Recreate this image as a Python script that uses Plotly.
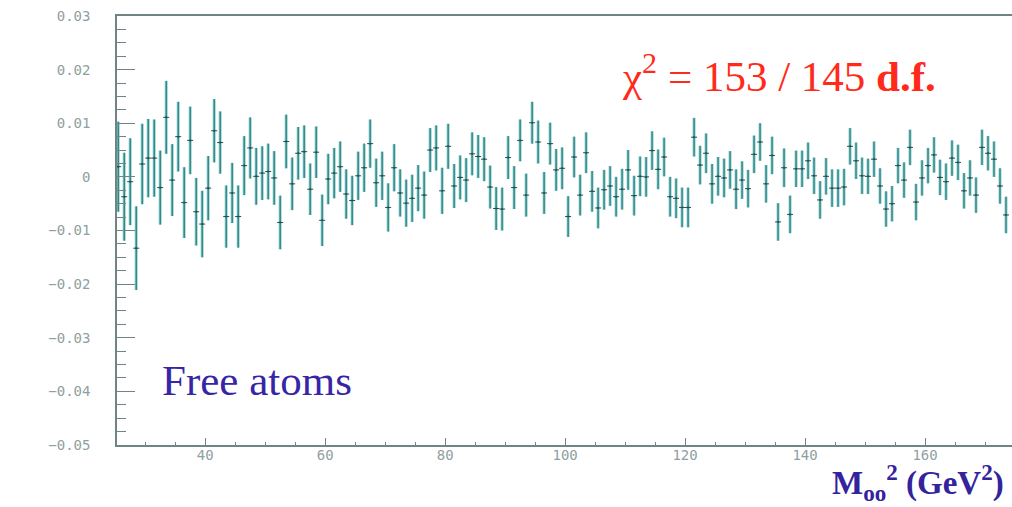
import plotly.graph_objects as go

# ---- data ----
bin_start = 25.5   # centre of first bin (GeV^2)
bin_width = 1.0

values = [
    # 25.5 .. 49.5
    0.0019, -0.0037, -0.0009, -0.0133, 0.0024, 0.0035, 0.0035, -0.0020, 0.0111, -0.0006,
    0.0075, -0.0048, 0.0068, -0.0065, -0.0088, -0.0021, 0.0086, 0.0064, -0.0074, -0.0030,
    -0.0074, 0.0021, 0.0054, 0.0001, 0.0007,
    # 50.5 .. 74.5
    0.0010, -0.0002, -0.0085, 0.0066, -0.0013, 0.0044, 0.0047, -0.0023, 0.0046, -0.0081,
    -0.0004, 0.0007, 0.0019, -0.0032, -0.0044, 0.0002, 0.0017, 0.0062, -0.0011, 0.0002,
    -0.0057, 0.0017, -0.0030, -0.0049, -0.0040,
    # 75.5 .. 99.5
    -0.0021, -0.0034, 0.0050, 0.0054, -0.0026, 0.0057, -0.0017, -0.0001, -0.0006, 0.0043,
    0.0038, 0.0033, -0.0019, -0.0059, -0.0060, 0.0036, -0.0020, 0.0068, -0.0034, 0.0101,
    0.0065, -0.0030, 0.0062, 0.0013, 0.0016,
    # 100.5 .. 124.5
    -0.0074, 0.0037, -0.0034, 0.0045, -0.0027, -0.0058, -0.0024, -0.0017, -0.0037, -0.0023,
    0.0013, -0.0035, 0.0001, 0.0000, 0.0049, 0.0014, 0.0037, -0.0037, -0.0040, -0.0057,
    -0.0057, 0.0074, 0.0022, 0.0044, -0.0013,
    # 125.5 .. 149.5
    0.0001, -0.0002, 0.0013, -0.0023, -0.0006, -0.0022, 0.0042, 0.0065, -0.0013, 0.0040,
    -0.0084, 0.0017, -0.0070, 0.0015, 0.0015, 0.0030, 0.0002, -0.0043, 0.0001, -0.0021,
    -0.0021, -0.0019, 0.0057, 0.0030, 0.0002,
    # 150.5 .. 173.5
    0.0001, 0.0033, -0.0017, -0.0060, -0.0050, 0.0021, -0.0006, 0.0055, -0.0047, -0.0002,
    0.0021, 0.0041, -0.0001, -0.0009, 0.0035, 0.0027, -0.0026, -0.0002, -0.0034, 0.0055,
    0.0044, 0.0033, -0.0017, -0.0071,
]

errors = [
    0.0084, 0.0082, 0.0081, 0.0078, 0.0075, 0.0073, 0.0072, 0.0069, 0.0068, 0.0067,
    0.0065, 0.0066, 0.0063, 0.0063, 0.0062, 0.0060, 0.0059, 0.0058, 0.0058, 0.0056,
    0.0058, 0.0055, 0.0057, 0.0053, 0.0050,
    0.0052, 0.0050, 0.0050, 0.0050, 0.0049, 0.0049, 0.0049, 0.0048, 0.0048, 0.0048,
    0.0047, 0.0047, 0.0047, 0.0046, 0.0046, 0.0045, 0.0045, 0.0045, 0.0045, 0.0045,
    0.0045, 0.0044, 0.0044, 0.0044, 0.0044,
    0.0043, 0.0044, 0.0041, 0.0042, 0.0043, 0.0042, 0.0041, 0.0041, 0.0041, 0.0040,
    0.0040, 0.0041, 0.0040, 0.0040, 0.0040, 0.0040, 0.0040, 0.0039, 0.0040, 0.0039,
    0.0040, 0.0039, 0.0039, 0.0039, 0.0039,
    0.0038, 0.0038, 0.0038, 0.0038, 0.0038, 0.0038, 0.0037, 0.0037, 0.0037, 0.0038,
    0.0037, 0.0037, 0.0037, 0.0037, 0.0036, 0.0037, 0.0036, 0.0037, 0.0037, 0.0037,
    0.0037, 0.0036, 0.0036, 0.0037, 0.0037,
    0.0036, 0.0036, 0.0035, 0.0037, 0.0035, 0.0035, 0.0035, 0.0035, 0.0035, 0.0035,
    0.0035, 0.0036, 0.0035, 0.0034, 0.0034, 0.0034, 0.0034, 0.0035, 0.0034, 0.0035,
    0.0035, 0.0034, 0.0034, 0.0034, 0.0034,
    0.0033, 0.0033, 0.0033, 0.0033, 0.0033, 0.0033, 0.0033, 0.0033, 0.0034, 0.0033,
    0.0033, 0.0033, 0.0033, 0.0034, 0.0033, 0.0033, 0.0033, 0.0033, 0.0033, 0.0033,
    0.0032, 0.0033, 0.0033, 0.0034,
]

x_centres = [bin_start + i * bin_width for i in range(len(values))]

y_tick_vals = [0.03, 0.02, 0.01, 0.0, -0.01, -0.02, -0.03, -0.04, -0.05]
y_tick_text = ["0.03", "0.02", "0.01", "0", "\u22120.01", "\u22120.02", "\u22120.03", "\u22120.04", "\u22120.05"]
x_tick_vals = [40, 60, 80, 100, 120, 140, 160]
x_tick_text = ["40", "60", "80", "100", "120", "140", "160"]

chi_text = "\u03c7<sup>2</sup> = 153 / 145 <b>d.f.</b>"
label_text = "Free atoms"
x_title = "<b>M<sub>oo</sub><sup>2</sup> (GeV<sup>2</sup>)</b>"

# ---- figure ----
fig = go.Figure()

# soft teal halo of the error bars
fig.add_trace(go.Scatter(
    x=x_centres, y=values, mode="markers",
    marker=dict(size=1, color="rgba(0,0,0,0)"),
    error_y=dict(type="data", array=errors, symmetric=True, width=0,
                 thickness=3, color="rgba(30,190,190,0.6)"),
    hoverinfo="skip", showlegend=False,
))
# dark core of the error bars with the bin-width horizontal bar
fig.add_trace(go.Scatter(
    x=x_centres, y=values, mode="markers",
    marker=dict(size=2, color="#2f4a4a"),
    error_y=dict(type="data", array=errors, symmetric=True, width=0,
                 thickness=1, color="#3a5656"),
    error_x=dict(type="constant", value=bin_width / 2, width=0,
                 thickness=1, color="#2f4a4a"),
    showlegend=False,
))

axis_col = "#6f8585"
tick_font = dict(family="DejaVu Sans Mono", size=14, color="#8fa0a0")

fig.update_layout(
    width=1012, height=507,
    margin=dict(l=117, r=0, t=16, b=62),
    paper_bgcolor="white", plot_bgcolor="white",
    xaxis=dict(
        range=[25.3, 174.5], showgrid=False, zeroline=False,
        showline=True, linecolor=axis_col, linewidth=1.5, mirror=True,
        tickmode="array", tickvals=x_tick_vals, ticktext=x_tick_text,
        ticks="inside", ticklen=7, tickwidth=1, tickcolor=axis_col,
        tickfont=tick_font, ticklabeloverflow="allow", ticklabelstandoff=-4,
        minor=dict(dtick=5, tick0=0, ticks="inside", ticklen=3, tickcolor=axis_col, showgrid=False),
    ),
    yaxis=dict(
        range=[-0.05, 0.03], showgrid=False, zeroline=False,
        showline=True, linecolor=axis_col, linewidth=1.5,
        tickmode="array", tickvals=y_tick_vals, ticktext=y_tick_text,
        ticks="inside", ticklen=18, tickwidth=1, tickcolor=axis_col,
        tickfont=tick_font, ticklabelstandoff=22, ticklabeloverflow="allow",
        minor=dict(dtick=0.0025, tick0=0, ticks="inside", ticklen=9, tickcolor=axis_col, showgrid=False),
    ),
    annotations=[
        dict(text=chi_text, xref="paper", yref="paper", x=0.562, y=0.866,
             xanchor="left", yanchor="middle", showarrow=False,
             font=dict(family="Liberation Serif", size=43, color="#ff2a1a")),
        dict(text=label_text, xref="paper", yref="paper", x=0.048, y=0.15,
             xanchor="left", yanchor="middle", showarrow=False,
             font=dict(family="Liberation Serif", size=43, color="#3626a6")),
        dict(text=x_title, xref="paper", yref="paper", x=0.993, y=-0.088,
             xanchor="right", yanchor="middle", showarrow=False,
             font=dict(family="Liberation Serif", size=33, color="#33239c")),
    ],
)

# remove the default page margin so the figure fills the 1012x507 window exactly
fig.write_html(
    "out.html",
    config={"displayModeBar": False},
    post_script="document.body.style.margin='0';document.body.style.overflow='hidden';",
)
